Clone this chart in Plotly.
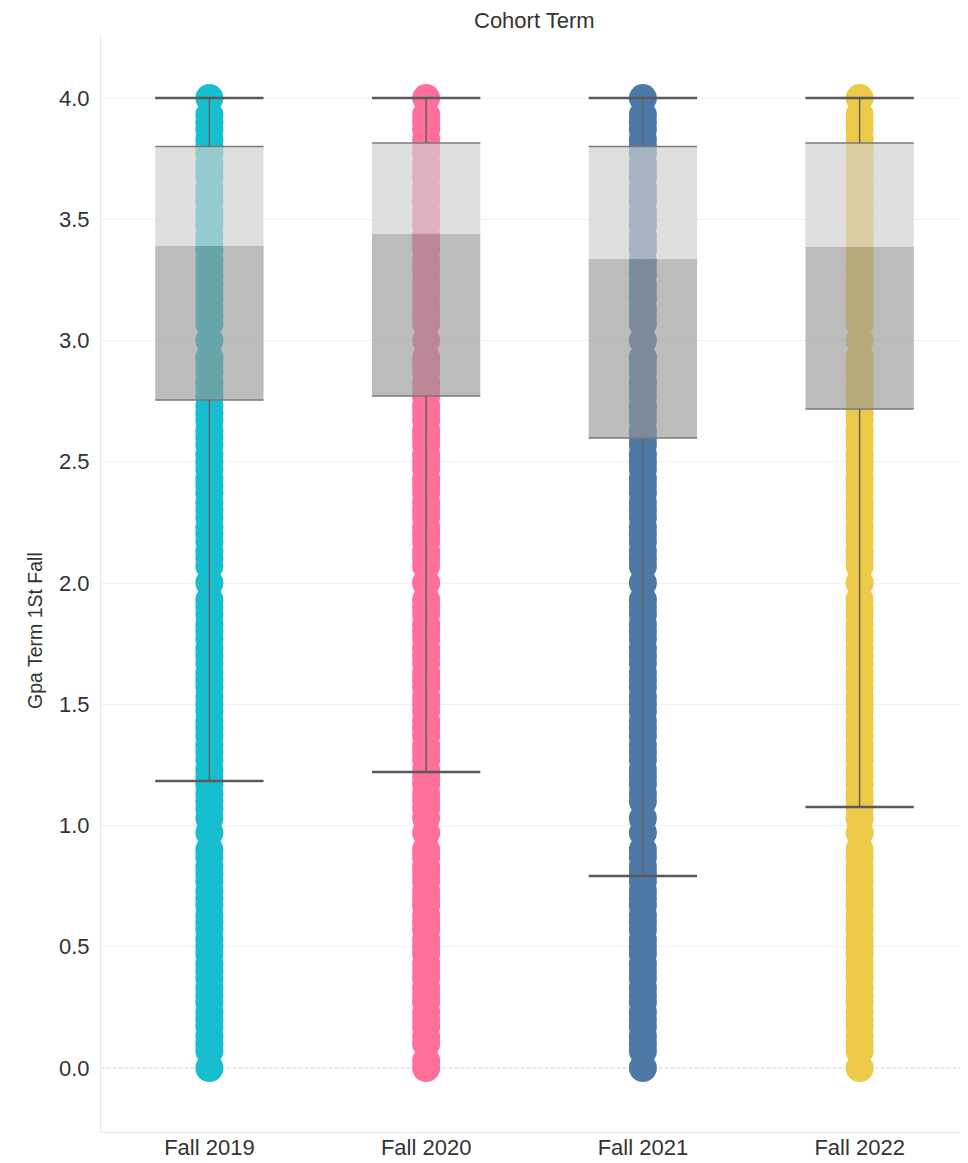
import plotly.graph_objects as go

cohorts = ["Fall 2019", "Fall 2020", "Fall 2021", "Fall 2022"]
colors = ["#17BECF", "#FF6F9A", "#4E79A7", "#EDC948"]

# distinct GPA values observed (dots) per cohort
gpa_2019 = [0.0, 0.07, 0.1, 0.13, 0.17, 0.2, 0.23, 0.27, 0.3, 0.33, 0.37, 0.4, 0.43, 0.47, 0.5, 0.53,
            0.57, 0.6, 0.63, 0.67, 0.7, 0.73, 0.77, 0.8, 0.83, 0.87, 0.9, 0.97, 1.03, 1.07, 1.1, 1.13,
            1.17, 1.2, 1.23, 1.27, 1.3, 1.33, 1.37, 1.4, 1.43, 1.47, 1.5, 1.53, 1.57, 1.6, 1.63, 1.67,
            1.7, 1.73, 1.77, 1.8, 1.83, 1.87, 1.9, 1.93, 2.0, 2.07, 2.1, 2.13, 2.17, 2.2, 2.23, 2.27,
            2.3, 2.33, 2.37, 2.4, 2.43, 2.47, 2.5, 2.53, 2.57, 2.6, 2.63, 2.67, 2.7, 2.73, 2.77, 2.8,
            2.83, 2.87, 2.9, 2.93, 3.0, 3.07, 3.1, 3.13, 3.17, 3.2, 3.23, 3.27, 3.3, 3.33, 3.37, 3.4,
            3.43, 3.47, 3.5, 3.53, 3.57, 3.6, 3.63, 3.67, 3.7, 3.73, 3.77, 3.8, 3.83, 3.87, 3.9, 3.93,
            4.0]
gpa_2020 = [0.0, 0.03, 0.1, 0.13, 0.17, 0.2, 0.23, 0.27, 0.3, 0.33, 0.37, 0.4, 0.43, 0.47, 0.5, 0.53,
            0.57, 0.6, 0.63, 0.67, 0.7, 0.73, 0.77, 0.8, 0.83, 0.87, 0.9, 0.97, 1.03, 1.07, 1.1, 1.13,
            1.17, 1.2, 1.23, 1.27, 1.3, 1.33, 1.37, 1.4, 1.43, 1.47, 1.5, 1.53, 1.57, 1.6, 1.63, 1.67,
            1.7, 1.73, 1.77, 1.8, 1.83, 1.87, 1.9, 1.93, 2.0, 2.07, 2.1, 2.13, 2.17, 2.2, 2.23, 2.27,
            2.3, 2.33, 2.37, 2.4, 2.43, 2.47, 2.5, 2.53, 2.57, 2.6, 2.63, 2.67, 2.7, 2.73, 2.77, 2.8,
            2.83, 2.87, 2.9, 2.93, 3.0, 3.07, 3.1, 3.13, 3.17, 3.2, 3.23, 3.27, 3.3, 3.33, 3.37, 3.4,
            3.43, 3.47, 3.5, 3.53, 3.57, 3.6, 3.63, 3.67, 3.7, 3.73, 3.77, 3.8, 3.83, 3.87, 3.9, 3.93,
            4.0]
gpa_2021 = [0.0, 0.07, 0.1, 0.13, 0.17, 0.2, 0.23, 0.27, 0.3, 0.33, 0.37, 0.4, 0.43, 0.47, 0.5, 0.53,
            0.57, 0.6, 0.63, 0.67, 0.7, 0.73, 0.77, 0.8, 0.83, 0.87, 0.9, 0.97, 1.03, 1.1, 1.13,
            1.17, 1.2, 1.23, 1.27, 1.3, 1.33, 1.37, 1.4, 1.43, 1.47, 1.5, 1.53, 1.57, 1.6, 1.63, 1.67,
            1.7, 1.73, 1.77, 1.8, 1.83, 1.87, 1.9, 1.93, 2.0, 2.07, 2.1, 2.13, 2.17, 2.2, 2.23, 2.27,
            2.3, 2.33, 2.37, 2.4, 2.43, 2.47, 2.5, 2.53, 2.57, 2.6, 2.63, 2.67, 2.7, 2.73, 2.77, 2.8,
            2.83, 2.87, 2.9, 2.93, 3.0, 3.07, 3.1, 3.13, 3.17, 3.2, 3.23, 3.27, 3.3, 3.33, 3.37, 3.4,
            3.43, 3.47, 3.5, 3.53, 3.57, 3.6, 3.63, 3.67, 3.7, 3.73, 3.77, 3.8, 3.83, 3.87, 3.9, 3.93,
            4.0]
gpa_2022 = [0.0, 0.07, 0.1, 0.13, 0.17, 0.2, 0.23, 0.27, 0.3, 0.33, 0.37, 0.4, 0.43, 0.47, 0.5, 0.53,
            0.57, 0.6, 0.63, 0.67, 0.7, 0.73, 0.77, 0.8, 0.83, 0.87, 0.9, 0.97, 1.03, 1.07, 1.1, 1.13,
            1.17, 1.2, 1.23, 1.27, 1.3, 1.33, 1.37, 1.4, 1.43, 1.47, 1.5, 1.53, 1.57, 1.6, 1.63, 1.67,
            1.7, 1.73, 1.77, 1.8, 1.83, 1.87, 1.9, 1.93, 2.0, 2.07, 2.1, 2.13, 2.17, 2.2, 2.23, 2.27,
            2.3, 2.33, 2.37, 2.4, 2.43, 2.47, 2.5, 2.53, 2.57, 2.6, 2.63, 2.67, 2.7, 2.73, 2.77, 2.8,
            2.83, 2.87, 2.9, 2.93, 3.0, 3.07, 3.1, 3.13, 3.17, 3.2, 3.23, 3.27, 3.3, 3.33, 3.37, 3.4,
            3.43, 3.47, 3.5, 3.53, 3.57, 3.6, 3.63, 3.67, 3.7, 3.73, 3.77, 3.8, 3.83, 3.87, 3.9, 3.93,
            4.0]
gpa_values = [gpa_2019, gpa_2020, gpa_2021, gpa_2022]

# box-plot statistics
upper_whisker = [4.0, 4.0, 4.0, 4.0]
q3 = [3.80, 3.815, 3.80, 3.815]
median = [3.39, 3.44, 3.336, 3.386]
q1 = [2.755, 2.771, 2.598, 2.718]
lower_whisker = [1.184, 1.221, 0.792, 1.076]

y_ticks = [0, 0.5, 1, 1.5, 2, 2.5, 3, 3.5, 4]
y_tick_labels = ["0.0", "0.5", "1.0", "1.5", "2.0", "2.5", "3.0", "3.5", "4.0"]

FONT = "Liberation Sans, Arial, sans-serif"
TXT = "#333333"
xs = list(range(len(cohorts)))
half = 0.25

fig = go.Figure()

# dots
for i, (name, vals, col) in enumerate(zip(cohorts, gpa_values, colors)):
    fig.add_trace(go.Scatter(
        x=[i] * len(vals), y=vals, mode="markers",
        marker=dict(size=28, color=col, line=dict(width=0)),
        name=name, showlegend=False, hoverinfo="y", xaxis="x", yaxis="y"))

# boxes (on overlay axes so they sit above the dots)
fig.add_trace(go.Bar(
    x=xs, y=[m - a for m, a in zip(median, q1)], base=q1, width=0.5,
    marker=dict(color="rgba(150,150,150,0.64)", line=dict(width=0)),
    showlegend=False, xaxis="x2", yaxis="y2", hoverinfo="skip"))
fig.add_trace(go.Bar(
    x=xs, y=[b - m for b, m in zip(q3, median)], base=median, width=0.5,
    marker=dict(color="rgba(208,208,208,0.68)", line=dict(width=0)),
    showlegend=False, xaxis="x2", yaxis="y2", hoverinfo="skip"))

# box top/bottom edges
ex, ey = [], []
for i in xs:
    for v in (q1[i], q3[i]):
        ex += [i - half, i + half, None]
        ey += [v, v, None]
fig.add_trace(go.Scatter(x=ex, y=ey, mode="lines", line=dict(color="#7a7a7a", width=1.5),
                         showlegend=False, xaxis="x2", yaxis="y2", hoverinfo="skip"))

# whisker stems
wx, wy = [], []
for i in xs:
    wx += [i, i, None, i, i, None]
    wy += [lower_whisker[i], q1[i], None, q3[i], upper_whisker[i], None]
fig.add_trace(go.Scatter(x=wx, y=wy, mode="lines", line=dict(color="#5f6666", width=1.5),
                         showlegend=False, xaxis="x2", yaxis="y2", hoverinfo="skip"))

# whisker caps
cx, cy = [], []
for i in xs:
    for v in (lower_whisker[i], upper_whisker[i]):
        cx += [i - half, i + half, None]
        cy += [v, v, None]
fig.add_trace(go.Scatter(x=cx, y=cy, mode="lines", line=dict(color="#5a5a5a", width=2.5),
                         showlegend=False, xaxis="x2", yaxis="y2", hoverinfo="skip"))

yr = [-0.264, 4.26]
xr = [-0.5, 3.5]

fig.update_layout(
    width=960, height=1155,
    margin=dict(l=93, r=0, t=27, b=31, autoexpand=False),
    paper_bgcolor="white", plot_bgcolor="white",
    font=dict(family=FONT, size=22, color=TXT),
    barmode="overlay",
    xaxis=dict(range=xr, tickmode="array", tickvals=xs, ticktext=cohorts,
               showgrid=False, zeroline=False, showline=True, linecolor="#e8e8e8",
               linewidth=1, ticks="", automargin=False, ticklabelstandoff=-4,
               tickfont=dict(size=22, color=TXT)),
    yaxis=dict(range=yr, tickmode="array", tickvals=y_ticks, ticktext=y_tick_labels,
               showgrid=True, gridcolor="#f0f0f0", gridwidth=1, zeroline=False,
               showline=True, linecolor="#e8e8e8", linewidth=1, ticks="",
               ticklabelstandoff=6, automargin=False,
               tickfont=dict(size=22, color=TXT)),
    xaxis2=dict(overlaying="x", matches="x", range=xr, visible=False),
    yaxis2=dict(overlaying="y", matches="y", range=yr, visible=False),
)

fig.add_hline(y=0, line=dict(color="#bdbdbd", width=1, dash="dot"), layer="below")

fig.add_annotation(text="Cohort Term", xref="paper", yref="paper", x=0.5, y=1,
                   yshift=15, showarrow=False, yanchor="middle", xanchor="center",
                   font=dict(size=22, color=TXT))

fig.add_annotation(text="Gpa Term 1St Fall", xref="paper", yref="paper", x=0, y=0.4567,
                   xshift=-66, showarrow=False, textangle=-90,
                   xanchor="center", yanchor="middle",
                   font=dict(size=19.5, color=TXT))

fig.write_html("out.html")
